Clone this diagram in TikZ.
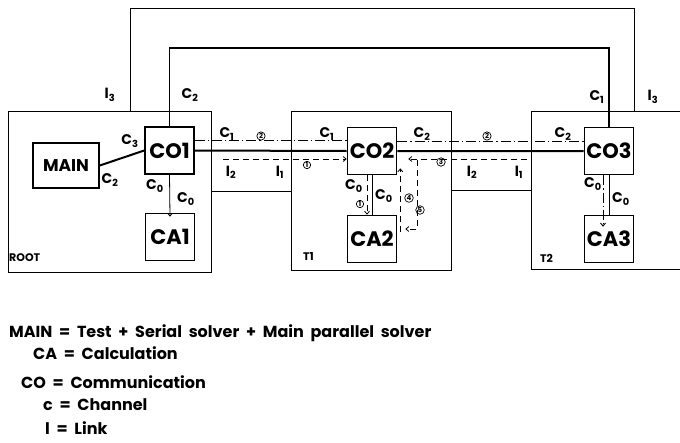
\documentclass[tikz,border=0pt]{standalone}
\usepackage{fontspec}
\setmainfont{Poppins}
\usetikzlibrary{arrows.meta,positioning,calc}

\newcommand\chn[1]{C\textsubscript{#1}}
\newcommand\lnk[1]{l\textsubscript{#1}}
\newcommand\keyspace{\spaceskip=0.42em\relax}

\tikzset{
  frame/.style={draw, line width=0.8pt, inner sep=0pt},
  unit/.style={draw, line width=1.6pt, inner sep=0pt, minimum width=49pt, minimum height=47pt,
    font=\bfseries\fontsize{21}{21}\selectfont},
  lbl/.style={inner sep=0pt, font=\bfseries\fontsize{14}{14}\selectfont},
  tag/.style={inner sep=0pt, font=\bfseries\fontsize{11}{11}\selectfont, anchor=west},
  legend/.style={inner sep=0pt, font=\bfseries\fontsize{16}{16}\selectfont\keyspace, anchor=west},
  circnum/.style={circle, draw, line width=0.7pt, inner sep=0.6pt, font=\bfseries\fontsize{7}{7}\selectfont},
  linkline/.style={line width=2pt},
  chan/.style={line width=0.9pt, dash pattern=on 10pt off 3pt on 1.2pt off 3pt},
  msg/.style={line width=0.8pt, dash pattern=on 6pt off 4pt, -{Straight Barb[length=3pt,width=5pt]}},
}

\begin{document}
\begin{tikzpicture}[x=1pt, y=-1pt, >={Straight Barb[length=3pt,width=5pt]}]
  \useasboundingbox (0,0) rectangle (680,442);
  \clip (0,0) rectangle (680,442);

  % transputers
  \node[frame, minimum width=203pt, minimum height=161pt] (root) at (109.5,191.5) {};
  \node[frame, minimum width=160pt, minimum height=159pt] (t1) at (371,190.5) {};
  \node[frame, minimum width=189pt, minimum height=158pt] (t2) at (625.5,190) {};
  \node[tag] (rootname) at (9,258) {ROOT};
  \node[tag] (t1name) at (303,256) {T1};
  \node[tag] (t2name) at (540,258) {T2};

  % processes
  \node[unit, minimum width=66pt, minimum height=45pt, font=\bfseries\fontsize{17}{17}\selectfont] (main) at (66,165.5) {MAIN};
  \node[unit] (co1) at (169.5,150.5) {CO1};
  \node[unit] (ca1) at (170,237) {CA1};
  \node[unit] (co2) at (372,151) {CO2};
  \node[unit] (ca2) at (372,239) {CA2};
  \node[unit] (co3) at (609,151) {CO3};
  \node[unit] (ca3) at (609,239) {CA3};

  % links
  \coordinate (l3L) at (130,8);
  \coordinate (l3R) at (634,8);
  \draw[line width=0.8pt] (root.north -| l3L) -- (l3L) -- (l3R) -- (t2.north -| l3R);
  \coordinate (c2top) at (390,48);
  \draw[line width=1.6pt] (co1.north) |- (c2top) -| (co3.north);
  \draw[linkline] (co1.east) -- (co2.west) (co2.east) -- (co3.west);
  \draw[linkline] (main.east) -- (co1.west);
  \draw[line width=0.8pt] (root.east) -- (root.east -| t1.west) (t1.east) -- (t1.east -| t2.west);

  % channels
  \draw[chan] ([yshift=10pt]co1.east) -- ([yshift=10pt]co1.east -| co2.west);
  \draw[chan] ([yshift=10pt]co2.east) -- ([yshift=10pt]co2.east -| co3.west);
  \draw[line width=0.8pt, ->] (co1.south) -- ([yshift=-4pt]ca1.north);
  \draw[line width=0.8pt] (co2.south) -- (ca2.north);
  \draw[line width=0.8pt] (co3.south) -- (co3.south |- ca3.north);
  \draw[chan, ->] ([xshift=-6pt]co3.south) -- ([xshift=-6pt,yshift=-12pt]ca3.north);

  % messages
  \coordinate (m1) at (223,159);
  \coordinate (m3) at (527,159);
  \draw[msg] (m1) -- (m1 -| co2.west);
  \draw[msg] (m3) -- ([xshift=11pt]m3 -| co2.east);
  \draw[msg] ([xshift=-5pt]co2.south) -- ([xshift=-5pt]ca2.north);
  \draw[msg] ([xshift=20pt,yshift=-9pt]co2.east) |- ([xshift=8pt,yshift=10pt]ca2.east);
  \draw[msg] ([xshift=3pt,yshift=7pt]ca2.east) -- ([xshift=3pt,yshift=7pt]co2.south east);

  % labels
  \node[lbl] (l3a) at (110,95) {\lnk{3}};
  \node[lbl] (c2a) at (190,95) {\chn{2}};
  \node[lbl] (c1a) at (597,97) {\chn{1}};
  \node[lbl] (l3b) at (653,97) {\lnk{3}};
  \node[lbl] (c3m) at (130,141) {\chn{3}};
  \node[lbl] (c2m) at (110,180) {\chn{2}};
  \node[lbl] (c0a) at (155,186) {\chn{0}};
  \node[lbl] (c0b) at (186,199) {\chn{0}};
  \node[lbl] (c1b) at (227,134) {\chn{1}};
  \node[lbl] (c1c) at (327,134) {\chn{1}};
  \node[lbl] (c2b) at (422,134) {\chn{2}};
  \node[lbl] (c2c) at (563,134) {\chn{2}};
  \node[lbl] (l2a) at (231,172) {\lnk{2}};
  \node[lbl] (l1a) at (280,172) {\lnk{1}};
  \node[lbl] (l2b) at (472,172) {\lnk{2}};
  \node[lbl] (l1b) at (519,172) {\lnk{1}};
  \node[lbl] (c0c) at (354,186) {\chn{0}};
  \node[lbl] (c0d) at (384,196) {\chn{0}};
  \node[lbl] (c0e) at (593,184) {\chn{0}};
  \node[lbl] (c0f) at (621,199) {\chn{0}};

  % message order
  \node[circnum] (n2a) at (261,136) {2};
  \node[circnum] (n1a) at (307,165) {1};
  \node[circnum] (n3) at (441,162) {3};
  \node[circnum] (n2b) at (487,136) {2};
  \node[circnum] (n1b) at (360,204) {1};
  \node[circnum] (n4) at (409,198) {4};
  \node[circnum] (n5) at (420,210) {5};

  % key
  \node[legend] (kmain) at (9,333) {MAIN = Test + Serial solver + Main parallel solver};
  \node[legend] (kca) at (33,353) {CA = Calculation};
  \node[legend] (kco) at (21,382) {CO = Communication};
  \node[legend] (kc) at (43,405) {c = Channel};
  \node[legend] (kl) at (45,428) {l = Link};
\end{tikzpicture}
\end{document}
